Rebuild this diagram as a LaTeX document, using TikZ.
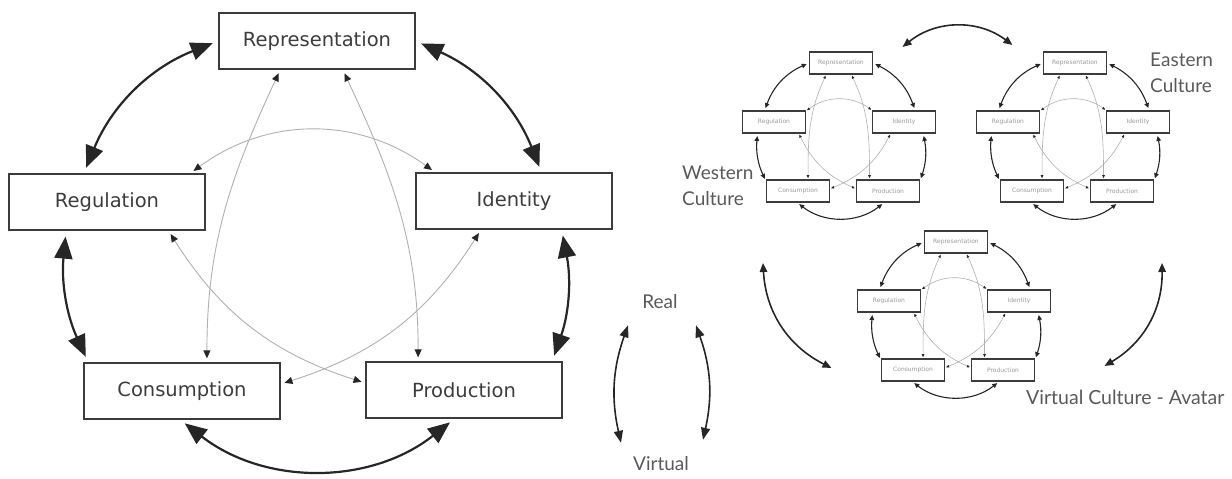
\documentclass[tikz,border=0pt]{standalone}
\usepackage{fontspec}
\setmainfont{DejaVu Sans}
\newfontfamily\captionfont{Lato}
\usetikzlibrary{arrows.meta}

\definecolor{inkdark}{HTML}{262626}
\definecolor{inkbox}{HTML}{3C3C3C}
\definecolor{inklight}{HTML}{B0B0B0}
\definecolor{inkcaption}{HTML}{595959}

\begin{document}
\begin{tikzpicture}[
    x=1pt, y=1pt,
    box/.style={
        rectangle,
        draw=inkbox,
        line width=1.3pt,
        minimum width=196pt,
        minimum height=56pt,
        inner sep=0pt,
        text=inkbox,
        font=\fontsize{19.5}{23}\selectfont
    },
    smallbox/.style={
        rectangle,
        draw=inkbox,
        line width=1.1pt,
        minimum width=63pt,
        minimum height=22pt,
        inner sep=0pt,
        text=black!40,
        font=\fontsize{6}{7}\selectfont
    },
    ringarrow/.style={
        draw=inkdark,
        line width=2.2pt,
        arrows={Triangle[length=22pt,width=18pt]-Triangle[length=22pt,width=18pt]},
        shorten <=6pt,
        shorten >=6pt
    },
    stararrow/.style={
        draw=inklight,
        line width=0.9pt,
        arrows={Triangle[length=8pt,width=7pt,color=inkdark]-Triangle[length=8pt,width=7pt,color=inkdark]},
        shorten <=4pt,
        shorten >=4pt
    },
    smallring/.style={
        draw=inkdark,
        line width=1.1pt,
        arrows={Triangle[length=5pt,width=4.5pt]-Triangle[length=5pt,width=4.5pt]},
        shorten <=2.5pt,
        shorten >=2.5pt
    },
    smallstar/.style={
        draw=inklight,
        line width=0.6pt,
        arrows={Triangle[length=3pt,width=2.5pt,color=inkdark]-Triangle[length=3pt,width=2.5pt,color=inkdark]},
        shorten <=1.2pt,
        shorten >=1.2pt
    },
    linkarrow/.style={
        draw=inkdark,
        line width=1.6pt,
        arrows={Triangle[length=9pt,width=7.5pt]-Triangle[length=9pt,width=7.5pt]}
    },
    swingarrow/.style={
        draw=inkdark,
        line width=1.6pt,
        arrows={Triangle[length=12pt,width=9pt]-Triangle[length=12pt,width=9pt]}
    },
    caption/.style={
        inner sep=0pt,
        text=inkcaption,
        font=\captionfont\fontsize{19}{26}\selectfont
    }
]

\useasboundingbox (0,0) rectangle (1232,479);

% Left wheel, cut at its right edge
\begin{scope}
\clip (0,0) rectangle (613,479);
\node[box] (rep)  at (317,438) {Representation};
\node[box] (reg)  at (107,277) {Regulation};
\node[box] (iden) at (514,278) {Identity};
\node[box] (cons) at (182,88)  {Consumption};
\node[box] (prod) at (464,89)  {Production};

% Outer ring
\draw[ringarrow] (rep.east) to[bend left=22] (iden.46);
\draw[ringarrow] (iden.-31) to[bend left=15] (prod.18);
\draw[ringarrow] (prod.252) to[bend left=38] (cons.266);
\draw[ringarrow] (cons.163) to[bend left=15] (reg.215);
\draw[ringarrow] (reg.129) to[bend left=23] (rep.west);

% Inner star
\draw[stararrow] (rep.218) to[out=245,in=90] (cons.49);
\draw[stararrow] (rep.312) to[out=-65,in=90] (prod.148);
\draw[stararrow] (reg.19) to[bend left=36] (iden.160);
\draw[stararrow] (reg.335) to[bend right=20] (prod.176);
\draw[stararrow] (iden.221) to[bend left=20] (cons.4);
\end{scope}

% Small wheels
\foreach \w/\cx/\cy in {west/841/416, east/1075/416, virt/956/237}{
    \begin{scope}[shift={(\cx,\cy)}]
    \node[smallbox] (\w-rep)  at (0,0)     {Representation};
    \node[smallbox] (\w-reg)  at (-67,-59) {Regulation};
    \node[smallbox] (\w-iden) at (63,-59)  {Identity};
    \node[smallbox] (\w-cons) at (-43,-128) {Consumption};
    \node[smallbox] (\w-prod) at (47,-128) {Production};
    \draw[smallring] (\w-rep.east) to[bend left=22] (\w-iden.46);
    \draw[smallring] (\w-iden.-31) to[bend left=15] (\w-prod.18);
    \draw[smallring] (\w-prod.252) to[bend left=38] (\w-cons.266);
    \draw[smallring] (\w-cons.163) to[bend left=15] (\w-reg.215);
    \draw[smallring] (\w-reg.129) to[bend left=23] (\w-rep.west);
    \draw[smallstar] (\w-rep.218) to[out=245,in=90] (\w-cons.49);
    \draw[smallstar] (\w-rep.312) to[out=-65,in=90] (\w-prod.148);
    \draw[smallstar] (\w-reg.19) to[bend left=36] (\w-iden.160);
    \draw[smallstar] (\w-reg.335) to[bend right=20] (\w-prod.176);
    \draw[smallstar] (\w-iden.221) to[bend left=20] (\w-cons.4);
    \end{scope}
}

% Captions
\node[caption, anchor=north west, align=left] (westcap) at (682,313) {Western\\Culture};
\node[caption, anchor=north west, align=left] (eastcap) at (1150,426) {Eastern\\Culture};
\node[caption, anchor=base west, font=\captionfont\fontsize{19.5}{26}\selectfont] (virtcap) at (1026,74) {Virtual Culture - Avatar};
\node[caption, anchor=base] (real) at (660,170) {Real};
\node[caption, anchor=base] (virtual) at (661,8) {Virtual};

% Links between the wheels
\draw[linkarrow] ([shift={(29.5,16)}]west-rep.east) to[bend left=38] ([shift={(-30.5,18)}]east-rep.west);
\draw[linkarrow] ([shift={(-35,-72)}]west-cons.center) to[bend right=30] ([shift={(-49.5,2)}]virt-cons.west);
\draw[linkarrow] ([shift={(40,-72)}]east-prod.center) to[bend left=30] ([shift={(69.5,4)}]virt-prod.east);

% Real and virtual
\draw[swingarrow] ([shift={(-32,-16)}]real.south) to[bend right=16] ([shift={(-40,14)}]virtual.north);
\draw[swingarrow] ([shift={(36,-16)}]real.south) to[bend left=16] ([shift={(42,17)}]virtual.north);

\end{tikzpicture}
\end{document}
